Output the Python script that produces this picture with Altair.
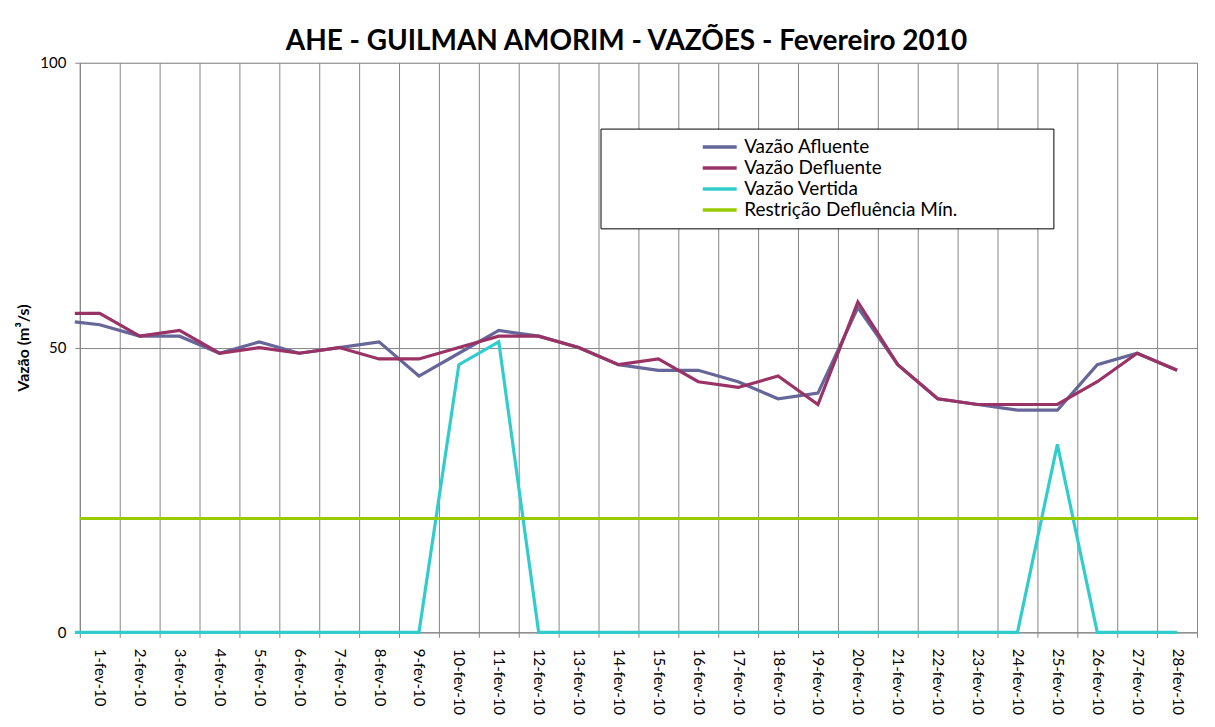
import altair as alt
import pandas as pd

# ---- data ----
dias = ["1-fev-10", "2-fev-10", "3-fev-10", "4-fev-10", "5-fev-10", "6-fev-10", "7-fev-10",
        "8-fev-10", "9-fev-10", "10-fev-10", "11-fev-10", "12-fev-10", "13-fev-10", "14-fev-10",
        "15-fev-10", "16-fev-10", "17-fev-10", "18-fev-10", "19-fev-10", "20-fev-10", "21-fev-10",
        "22-fev-10", "23-fev-10", "24-fev-10", "25-fev-10", "26-fev-10", "27-fev-10", "28-fev-10"]

afluente = [54, 52, 52, 49, 51, 49, 50, 51, 45, 49, 53, 52, 50, 47,
            46, 46, 44, 41, 42, 57, 47, 41, 40, 39, 39, 47, 49, 46]
defluente = [56, 52, 53, 49, 50, 49, 50, 48, 48, 50, 52, 52, 50, 47,
             48, 44, 43, 45, 40, 58, 47, 41, 40, 40, 40, 44, 49, 46]
vertida = [0, 0, 0, 0, 0, 0, 0, 0, 0, 47, 51, 0, 0, 0,
           0, 0, 0, 0, 0, 0, 0, 0, 0, 0, 33, 0, 0, 0]
restricao = 20

# short leading stub visible at the left edge of the lines
stub_pos = 0.375
stub_afluente = 54.5
stub_defluente = 56
stub_vertida = 0

series_names = ["Vazão Afluente", "Vazão Defluente", "Vazão Vertida", "Restrição Defluência Mín."]
series_colors = ["#666699", "#993366", "#33CCCC", "#99CC00"]

# ---- build tables ----
rows = []
for name, vals, stub in [(series_names[0], afluente, stub_afluente),
                         (series_names[1], defluente, stub_defluente),
                         (series_names[2], vertida, stub_vertida)]:
    rows.append({"serie": name, "dia": stub_pos, "valor": stub})
    for i, v in enumerate(vals):
        rows.append({"serie": name, "dia": i + 1, "valor": v})
df = pd.DataFrame(rows)
df_rule = pd.DataFrame({"serie": [series_names[3]], "valor": [restricao]})

n = len(dias)
tick_vals = [k / 2 for k in range(1, 2 * n + 2)]  # 0.5, 1, 1.5, ..., 28.5
label_arr = "[" + ",".join("'" + d + "'" for d in dias) + "]"
label_expr = f"datum.value % 1 === 0 ? {label_arr}[datum.value - 1] : ''"

FONT = "Lato"
GRID = "#868686"

half_only = {"condition": {"test": "datum.value % 1 === 0", "value": 0}, "value": 1}

x_enc = alt.X(
    "dia:Q",
    scale=alt.Scale(domain=[0.5, n + 0.5], nice=False, zero=False),
    axis=alt.Axis(
        values=tick_vals, labelExpr=label_expr, title=None,
        labelAngle=90, labelAlign="left", labelBaseline="middle",
        labelPadding=11, labelFont=FONT, labelFontSize=15, labelColor="black",
        labelOverlap=False, labelFlush=False, labelBound=False,
        tickSize=5, tickColor=GRID, tickOpacity=half_only,
        grid=True, gridColor=GRID, gridOpacity=half_only, gridWidth=1,
        domainColor=GRID, domainWidth=1,
    ),
)
y_enc = alt.Y(
    "valor:Q",
    scale=alt.Scale(domain=[0, 100], nice=False),
    axis=alt.Axis(
        values=[0, 50, 100], title="Vazão (m³/s)",
        titleFont=FONT, titleFontSize=16, titleFontWeight="bold", titleColor="black",
        titlePadding=8,
        labelFont=FONT, labelFontSize=15, labelColor="black", labelPadding=9,
        tickSize=5, tickColor=GRID, grid=True, gridColor=GRID, gridWidth=1,
        domainColor=GRID, domainWidth=1,
    ),
)

color_scale = alt.Scale(domain=series_names, range=series_colors)
legend = alt.Legend(
    title=" ", titleOrient="right", titlePadding=88, titleFontSize=10,
    orient="none", legendX=522, legendY=66,
    symbolType="M-2,0H2", symbolSize=289, symbolStrokeWidth=3.5, symbolOffset=101,
    labelFont=FONT, labelFontSize=19, labelColor="black", labelOffset=14,
    rowPadding=0, padding=8, strokeColor="black", fillColor="white",
    labelLimit=400,
)

rule = alt.Chart(df_rule).mark_rule(strokeWidth=3).encode(
    y=alt.Y("valor:Q"),
    color=alt.Color("serie:N", scale=color_scale, legend=legend),
)
lines = alt.Chart(df).mark_line(strokeWidth=3.2).encode(
    x=x_enc, y=y_enc,
    color=alt.Color("serie:N", scale=color_scale, legend=legend),
)

chart = alt.layer(lines, rule).properties(
    width=1120, height=571,
    title=alt.TitleParams(
        "AHE - GUILMAN AMORIM - VAZÕES - Fevereiro 2010",
        font=FONT, fontSize=28, fontWeight="bold", color="black",
        anchor="middle", offset=0, dx=-12,
    ),
    autosize=alt.AutoSizeParams(type="none"),
    padding={"left": 72, "top": 54, "right": 10, "bottom": 94},
).configure_view(stroke=None).configure(background="white")

chart.save("out.html", embed_options={"renderer": "svg", "actions": False})
